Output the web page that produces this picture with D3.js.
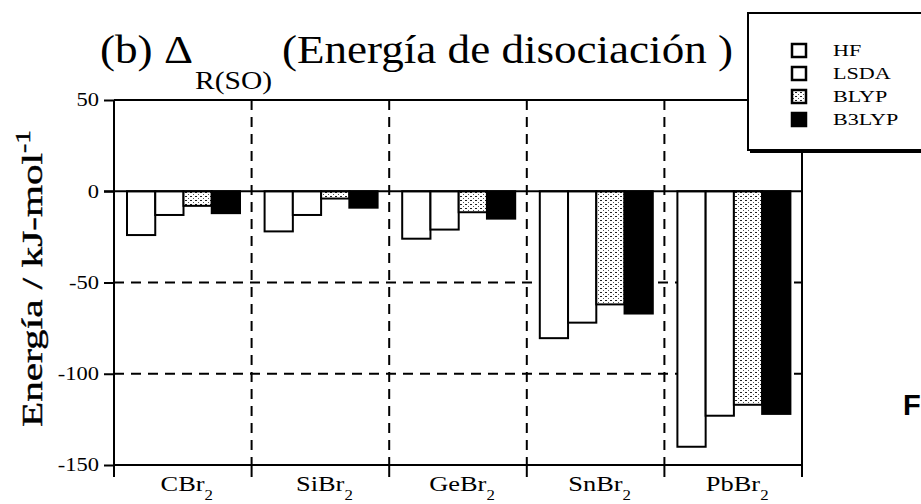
<!DOCTYPE html>
<html>
<head>
<meta charset="utf-8">
<script src="https://cdn.jsdelivr.net/npm/d3@7"></script>
<style>
  body { margin: 0; background: #fff; }
  svg { display: block; font-family: "Liberation Serif", "Times New Roman", serif; }
</style>
</head>
<body>
<div id="chart"></div>
<script>
// data
var categories = ["CBr", "SiBr", "GeBr", "SnBr", "PbBr"];
var series = ["HF", "LSDA", "BLYP", "B3LYP"];
var hf = [-24, -22, -26, -80.5, -140];
var lsda = [-13, -13, -21, -72, -123];
var blyp = [-8, -4, -11.5, -62, -117];
var b3lyp = [-12, -9, -15, -67, -122];
var yTicks = [50, 0, -50, -100, -150];

var values = [hf, lsda, blyp, b3lyp];
var w = 921, h = 504;
var pLeft = 114, pRight = 802, pTop = 100, pBottom = 465;

// the scanned figure is stretched sideways, so widen the glyphs
function stretch(sel, k) {
  sel.each(function () {
    var len = this.getComputedTextLength();
    d3.select(this).attr("textLength", len * k).attr("lengthAdjust", "spacingAndGlyphs");
  });
}

var svg = d3.select("#chart").append("svg").attr("width", w).attr("height", h);

var defs = svg.append("defs");
var pat = defs.append("pattern").attr("id", "dots")
  .attr("patternUnits", "userSpaceOnUse").attr("width", 5).attr("height", 4);
pat.append("rect").attr("width", 5).attr("height", 4).attr("fill", "#fff");
pat.append("rect").attr("x", 0).attr("y", 0).attr("width", 2).attr("height", 1).attr("fill", "#222");
pat.append("rect").attr("x", 3).attr("y", 2).attr("width", 1).attr("height", 1).attr("fill", "#555");

var fills = { HF: "#fff", LSDA: "#fff", BLYP: "url(#dots)", B3LYP: "#000" };

var x = d3.scaleBand().domain(categories).range([pLeft, pRight]);
var xi = d3.scaleBand().domain(series).range([13, 126]);
var y = d3.scaleLinear().domain([-150, 50]).range([pBottom, pTop]);

// grid
var grid = svg.append("g").attr("stroke", "#000").attr("stroke-width", 2).attr("stroke-dasharray", "10,7");
grid.selectAll(".hg").data([-50, -100]).enter().append("line")
  .attr("x1", pLeft).attr("x2", pRight)
  .attr("y1", d => y(d)).attr("y2", d => y(d));
grid.selectAll(".vg").data(categories.slice(1)).enter().append("line")
  .attr("x1", d => x(d)).attr("x2", d => x(d))
  .attr("y1", pTop).attr("y2", pBottom);

// bars
var rows = [];
categories.forEach((c, i) => {
  series.forEach((s, j) => rows.push({ cat: c, ser: s, v: values[j][i] }));
});
svg.append("g").selectAll("rect").data(rows).enter().append("rect")
  .attr("x", d => x(d.cat) + xi(d.ser))
  .attr("width", xi.bandwidth())
  .attr("y", d => y(Math.max(0, d.v)))
  .attr("height", d => Math.abs(y(d.v) - y(0)))
  .attr("fill", d => fills[d.ser])
  .attr("stroke", "#000").attr("stroke-width", 2);

// frame & axes
var ax = svg.append("g").attr("stroke", "#000").attr("stroke-width", 2);
ax.append("line").attr("x1", pLeft).attr("x2", pRight).attr("y1", pTop).attr("y2", pTop);
ax.append("line").attr("x1", pLeft).attr("x2", pRight).attr("y1", pBottom).attr("y2", pBottom);
ax.append("line").attr("x1", pLeft).attr("x2", pLeft).attr("y1", pTop).attr("y2", pBottom);
ax.append("line").attr("x1", pRight).attr("x2", pRight).attr("y1", pTop).attr("y2", pBottom + 12);
ax.append("line").attr("x1", pLeft - 10).attr("x2", pRight).attr("y1", y(0)).attr("y2", y(0));

var yAxis = d3.axisLeft(y).tickValues(yTicks).tickSize(10).tickFormat(d => String(d));
var ga = svg.append("g").attr("transform", `translate(${pLeft},0)`).call(yAxis);
ga.select(".domain").remove();
ga.selectAll("line").attr("stroke", "#000").attr("stroke-width", 2);
ga.selectAll("text").attr("font-family", "Liberation Serif").attr("font-size", 18)
  .attr("fill", "#000").attr("x", -15);
stretch(ga.selectAll("text"), 1.25);

// bottom ticks at category boundaries
var bounds = categories.map(c => x(c)).concat([pRight]);
ax.selectAll(".bt").data(bounds).enter().append("line")
  .attr("x1", d => d).attr("x2", d => d).attr("y1", pBottom).attr("y2", pBottom + 12);

// category labels
var xl = svg.append("g").attr("font-size", 22).attr("text-anchor", "middle");
categories.forEach(c => {
  var t = xl.append("text").attr("x", x(c) + x.bandwidth() / 2 + 4).attr("y", 491);
  t.append("tspan").text(c);
  t.append("tspan").attr("dy", 9).attr("font-size", 14).text("2");
});
stretch(xl.selectAll("text"), 1.2);

// y label
var yl = svg.append("text").attr("transform", "translate(42,427) rotate(-90)")
  .attr("font-size", 30).attr("stroke", "#000").attr("stroke-width", 0.4);
yl.append("tspan").text("Energía / kJ-mol");
yl.append("tspan").attr("dy", -12).attr("font-size", 20).text("-1");
yl.attr("textLength", 297).attr("lengthAdjust", "spacingAndGlyphs");

// title
var t1 = svg.append("text").attr("x", 100).attr("y", 63).attr("font-size", 39).text("(b) Δ");
t1.attr("textLength", 93).attr("lengthAdjust", "spacingAndGlyphs");
var t2 = svg.append("text").attr("x", 195).attr("y", 89).attr("font-size", 26).text("R(SO)");
t2.attr("textLength", 77).attr("lengthAdjust", "spacingAndGlyphs");
var t3 = svg.append("text").attr("x", 282).attr("y", 63).attr("font-size", 39).text("(Energía de disociación )");
t3.attr("textLength", 451).attr("lengthAdjust", "spacingAndGlyphs");

// legend
var lg = svg.append("g");
lg.append("rect").attr("x", 750).attr("y", 16).attr("width", 200).attr("height", 137).attr("fill", "#000");
lg.append("rect").attr("x", 748).attr("y", 13).attr("width", 200).attr("height", 137)
  .attr("fill", "#fff").attr("stroke", "#000").attr("stroke-width", 2);
series.forEach((s, i) => {
  var yy = 56 + i * 23;
  lg.append("rect").attr("x", 792).attr("y", yy - 12).attr("width", 14).attr("height", 13)
    .attr("fill", fills[s]).attr("stroke", "#000").attr("stroke-width", 2.5);
  lg.append("text").attr("x", 833).attr("y", yy).attr("font-size", 17).text(s);
});
stretch(lg.selectAll("text"), 1.3);

svg.append("text").attr("x", 903).attr("y", 415).attr("font-family", "Liberation Sans, Arial, sans-serif")
  .attr("font-weight", "bold").attr("font-size", 29).text("F");
</script>
</body>
</html>
